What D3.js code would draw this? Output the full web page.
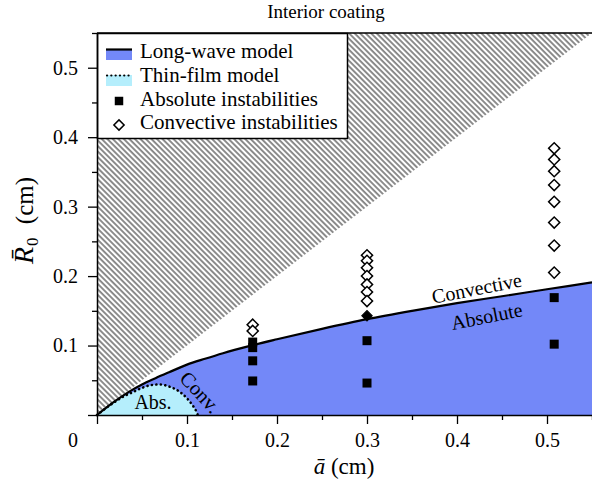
<!DOCTYPE html>
<html>
<head>
<meta charset="utf-8">
<script src="https://cdn.jsdelivr.net/npm/d3@7"></script>
<style>
  html, body { margin: 0; padding: 0; background: #fff; }
  svg { display: block; }
  text { font-family: "Liberation Serif", "Times New Roman", serif; fill: #000; }
</style>
</head>
<body>
<svg id="chart" width="592" height="487"></svg>
<script>
// Long-wave model boundary between absolute and convective instability
const longWaveA = [0, 0.02, 0.035, 0.05, 0.065, 0.08, 0.1, 0.12, 0.14, 0.17, 0.2, 0.25, 0.3, 0.35, 0.4, 0.45, 0.5, 0.55];
const longWaveR = [0, 0.02, 0.033, 0.044, 0.053, 0.0615, 0.0725, 0.081, 0.089, 0.0995, 0.109, 0.124, 0.138, 0.150, 0.161, 0.171, 0.181, 0.191];

// Thin-film model boundary
const thinFilmA = [0, 0.01, 0.02, 0.03, 0.04, 0.05, 0.06, 0.07, 0.08, 0.09, 0.1, 0.105, 0.11, 0.112];
const thinFilmR = [0, 0.01, 0.019, 0.027, 0.033, 0.039, 0.043, 0.044, 0.041, 0.035, 0.024, 0.016, 0.006, 0];

// Observed instabilities
const absoluteA = [0.173, 0.173, 0.173, 0.173, 0.300, 0.300, 0.508, 0.508];
const absoluteR = [0.105, 0.097, 0.078, 0.049, 0.107, 0.046, 0.169, 0.102];

const convectiveA = [0.173, 0.173, 0.300, 0.300, 0.300, 0.300, 0.300, 0.300, 0.300,
                     0.508, 0.508, 0.508, 0.508, 0.508, 0.508, 0.508, 0.508];
const convectiveR = [0.130, 0.121, 0.230, 0.222, 0.212, 0.200, 0.188, 0.177, 0.164,
                     0.384, 0.368, 0.351, 0.331, 0.307, 0.277, 0.244, 0.205];

// Point lying right on the boundary
const boundaryA = [0.300];
const boundaryR = [0.143];

const xMajor = [0, 0.1, 0.2, 0.3, 0.4, 0.5];
const xMinor = [0.05, 0.15, 0.25, 0.35, 0.45, 0.55];
const yMajor = [0, 0.1, 0.2, 0.3, 0.4, 0.5];
const yMinor = [0.05, 0.15, 0.25, 0.35, 0.45, 0.55];

const legendLabels = ["Long-wave model", "Thin-film model", "Absolute instabilities", "Convective instabilities"];

const BLUE = "#7388f8";
const CYAN = "#b5eefc";

const svg = d3.select("#chart");
const x = d3.scaleLinear().domain([0, 0.55]).range([97, 592]);
const y = d3.scaleLinear().domain([0, 0.55]).range([415, 33]);

const defs = svg.append("defs");
const pat = defs.append("pattern")
  .attr("id", "hatch")
  .attr("patternUnits", "userSpaceOnUse")
  .attr("width", 3.9).attr("height", 10)
  .attr("patternTransform", "rotate(-45)");
pat.append("line").attr("x1", 1).attr("y1", 0).attr("x2", 1).attr("y2", 10)
  .attr("stroke", "#000").attr("stroke-width", 0.9);

// Excluded region R0 > a
svg.append("path")
  .attr("d", d3.line()([[x(0), y(0)], [x(0), y(0.55)], [x(0.55), y(0.55)]]) + "Z")
  .attr("fill", "url(#hatch)");

const lw = longWaveA.map((a, i) => [a, longWaveR[i]]);
const tf = thinFilmA.map((a, i) => [a, thinFilmR[i]]);

const area = d3.area().x(d => x(d[0])).y0(y(0)).y1(d => y(d[1])).curve(d3.curveMonotoneX);
const line = d3.line().x(d => x(d[0])).y(d => y(d[1])).curve(d3.curveMonotoneX);

svg.append("path").attr("d", area(lw)).attr("fill", BLUE);
svg.append("path").attr("d", area(tf)).attr("fill", CYAN);
svg.append("path").attr("d", line(lw)).attr("fill", "none").attr("stroke", "#000").attr("stroke-width", 2.2);
svg.append("path").attr("d", line(tf)).attr("fill", "none").attr("stroke", "#000")
  .attr("stroke-width", 2.6).attr("stroke-linecap", "round").attr("stroke-dasharray", "0.1,4.4");

// Region labels
svg.append("text").attr("x", 153).attr("y", 409).attr("text-anchor", "middle").attr("font-size", 20).text("Abs.");
svg.append("text").attr("transform", "translate(195,397) rotate(47)").attr("text-anchor", "middle").attr("font-size", 20.5).text("Conv.");
svg.append("text").attr("transform", "translate(478,295) rotate(-11)").attr("text-anchor", "middle").attr("font-size", 20).text("Convective");
svg.append("text").attr("transform", "translate(488,323) rotate(-11)").attr("text-anchor", "middle").attr("font-size", 20).text("Absolute");

// Legend
const lg = svg.append("g");
lg.append("rect").attr("x", 97.5).attr("y", 33.5).attr("width", 250).attr("height", 105)
  .attr("fill", "#fff").attr("stroke", "#000").attr("stroke-width", 1.5);
lg.append("rect").attr("x", 106).attr("y", 49).attr("width", 26).attr("height", 11).attr("fill", BLUE);
lg.append("line").attr("x1", 106).attr("x2", 132).attr("y1", 49.5).attr("y2", 49.5).attr("stroke", "#000").attr("stroke-width", 2.2);
lg.append("rect").attr("x", 106).attr("y", 75).attr("width", 26).attr("height", 11).attr("fill", CYAN);
lg.append("line").attr("x1", 107).attr("x2", 132).attr("y1", 75.5).attr("y2", 75.5).attr("stroke", "#000")
  .attr("stroke-width", 2.2).attr("stroke-linecap", "round").attr("stroke-dasharray", "0.1,4.2");
lg.append("path").attr("d", d3.symbol(d3.symbolSquare, 72)()).attr("transform", "translate(119,101)");
lg.append("path").attr("d", d3.symbol(d3.symbolSquare, 52)())
  .attr("transform", "translate(119,125) rotate(45)").attr("fill", "#fff").attr("stroke", "#000").attr("stroke-width", 1.5);
const lgBase = [58, 82, 106, 129];
legendLabels.forEach((t, i) => {
  lg.append("text").attr("x", 140).attr("y", lgBase[i]).attr("font-size", 21).text(t);
});

// Markers
const sq = d3.symbol(d3.symbolSquare, 81)();
svg.append("g").selectAll("path").data(absoluteA).join("path")
  .attr("d", sq).attr("fill", "#000")
  .attr("transform", (a, i) => `translate(${x(a)},${y(absoluteR[i])})`);
const dm = d3.symbol(d3.symbolSquare, 62)();
svg.append("g").selectAll("path").data(convectiveA).join("path")
  .attr("d", dm).attr("fill", "#fff").attr("stroke", "#000").attr("stroke-width", 1.5)
  .attr("transform", (a, i) => `translate(${x(a)},${y(convectiveR[i])}) rotate(45)`);
svg.append("g").selectAll("path").data(boundaryA).join("path")
  .attr("d", d3.symbol(d3.symbolSquare, 55)()).attr("fill", "#000").attr("stroke", "#000").attr("stroke-width", 1)
  .attr("transform", (a, i) => `translate(${x(a)},${y(boundaryR[i])}) rotate(45)`);

// Frame top
svg.append("line").attr("x1", x(0)).attr("x2", x(0.55)).attr("y1", y(0.55)).attr("y2", y(0.55))
  .attr("stroke", "#000").attr("stroke-width", 1.5);

// Axes
const fmt = d => d === 0 ? "" : d3.format(".1f")(d);
const styleAxis = g => {
  g.select(".domain").attr("stroke-width", 1.5);
  g.selectAll(".tick line").attr("stroke-width", 1.3);
  g.selectAll("text").attr("font-size", 20);
};
svg.append("g").attr("transform", `translate(0,${y(0)})`)
  .call(d3.axisBottom(x).tickValues(xMinor).tickSize(5).tickFormat(""))
  .call(g => g.select(".domain").remove())
  .call(g => g.selectAll(".tick line").attr("stroke-width", 1.3));
svg.append("g").attr("transform", `translate(0,${y(0)})`)
  .call(d3.axisBottom(x).tickValues(xMajor).tickSize(9).tickSizeOuter(0).tickPadding(9).tickFormat(fmt))
  .call(styleAxis);
svg.append("g").attr("transform", `translate(${x(0)},0)`)
  .call(d3.axisLeft(y).tickValues(yMinor).tickSize(5).tickFormat(""))
  .call(g => g.select(".domain").remove())
  .call(g => g.selectAll(".tick line").attr("stroke-width", 1.3));
svg.append("g").attr("transform", `translate(${x(0)},0)`)
  .call(d3.axisLeft(y).tickValues(yMajor).tickSize(9).tickSizeOuter(0).tickPadding(10).tickFormat(fmt))
  .call(styleAxis);

svg.append("text").attr("x", 73).attr("y", 447).attr("text-anchor", "middle").attr("font-size", 20).text("0");

// Axis titles
const xl = svg.append("text").attr("x", 344).attr("y", 474).attr("text-anchor", "middle").attr("font-size", 23);
xl.append("tspan").attr("font-style", "italic").text("\u0101");
xl.append("tspan").text(" (cm)");

const yl = svg.append("text").attr("transform", "translate(33,264) rotate(-90)").attr("text-anchor", "start").attr("font-size", 25);
yl.append("tspan").attr("font-style", "italic").attr("font-size", 28).text("R\u0304");
yl.append("tspan").attr("font-size", 17).attr("dy", 5).attr("dx", 1).text("0");
yl.append("tspan").attr("dy", -5).attr("dx", 7).text(" (cm)");

// Title
svg.append("text").attr("x", 326).attr("y", 18).attr("text-anchor", "middle").attr("font-size", 19).text("Interior coating");
</script>
</body>
</html>
